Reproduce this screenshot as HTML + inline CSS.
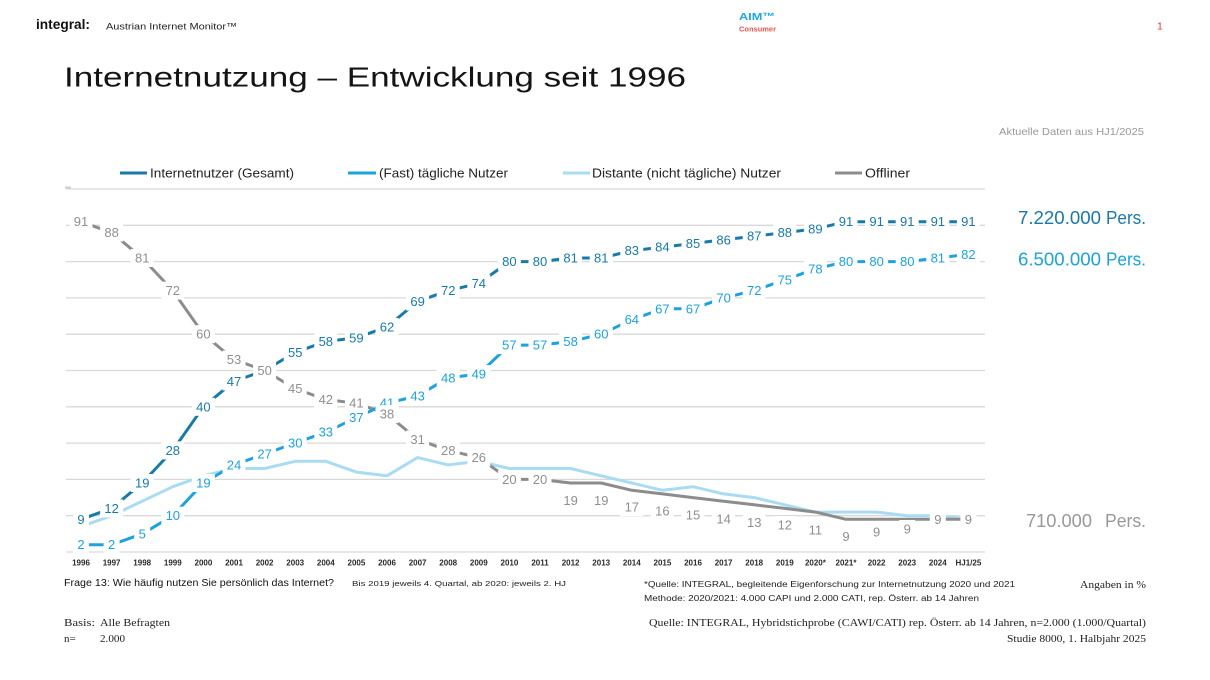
<!DOCTYPE html>
<html><head><meta charset="utf-8"><style>
html,body{margin:0;padding:0;background:#fff;}
svg{display:block;font-family:"Liberation Sans",Arial,sans-serif;}
.lb text{text-anchor:middle;dominant-baseline:central;font-size:13px;}
.lb rect{fill:#fff;}
.ib text{fill:#177aa8;} .db text{fill:#1ba3de;} .ob text{fill:#8f8f8f;}
.xl text{text-anchor:middle;dominant-baseline:central;font-size:8px;font-weight:bold;fill:#2a2a2a;}
.serif{font-family:"Liberation Serif","Times New Roman",serif;}
</style></head><body>
<svg width="1210" height="680" viewBox="0 0 1210 680" xmlns="http://www.w3.org/2000/svg">
<!-- header -->
<text x="36" y="29" font-size="13.5" font-weight="bold" fill="#111" textLength="54" lengthAdjust="spacingAndGlyphs">integral:</text>
<text x="106" y="29.3" font-size="9.5" fill="#222" textLength="131" lengthAdjust="spacingAndGlyphs">Austrian Internet Monitor™</text>
<text x="739" y="20" font-size="10.5" font-weight="bold" fill="#1ea7e0" textLength="36" lengthAdjust="spacingAndGlyphs">AIM™</text>
<text x="739" y="31.5" font-size="7.5" font-weight="bold" fill="#f2544c" textLength="37" lengthAdjust="spacingAndGlyphs">Consumer</text>
<text x="1157" y="29.3" font-size="10.5" fill="#e03a32">1</text>
<text x="64" y="86.5" font-size="28" fill="#141414" textLength="622" lengthAdjust="spacingAndGlyphs">Internetnutzung – Entwicklung seit 1996</text>
<text x="999" y="135" font-size="10.5" fill="#999" textLength="145" lengthAdjust="spacingAndGlyphs">Aktuelle Daten aus HJ1/2025</text>

<!-- legend -->
<line x1="120" y1="173" x2="147" y2="173" stroke="#177aa8" stroke-width="3"/>
<text x="150" y="177.5" font-size="13" fill="#222" textLength="144" lengthAdjust="spacingAndGlyphs">Internetnutzer (Gesamt)</text>
<line x1="348" y1="173" x2="376" y2="173" stroke="#1ba3de" stroke-width="3"/>
<text x="379" y="177.5" font-size="13" fill="#222" textLength="129" lengthAdjust="spacingAndGlyphs">(Fast) tägliche Nutzer</text>
<line x1="563" y1="173" x2="590" y2="173" stroke="#a9dcf3" stroke-width="3"/>
<text x="592" y="177.5" font-size="13" fill="#222" textLength="189" lengthAdjust="spacingAndGlyphs">Distante (nicht tägliche) Nutzer</text>
<line x1="835" y1="173" x2="862" y2="173" stroke="#8c8c8c" stroke-width="3"/>
<text x="865" y="177.5" font-size="13" fill="#222" textLength="45" lengthAdjust="spacingAndGlyphs">Offliner</text>

<!-- gridlines -->
<g stroke="#d9d9d9" stroke-width="1.3">
<line x1="66" y1="189" x2="985" y2="189"/>
<line x1="66" y1="225.3" x2="985" y2="225.3"/>
<line x1="66" y1="261.6" x2="985" y2="261.6"/>
<line x1="66" y1="297.9" x2="985" y2="297.9"/>
<line x1="66" y1="334.2" x2="985" y2="334.2"/>
<line x1="66" y1="370.5" x2="985" y2="370.5"/>
<line x1="66" y1="406.8" x2="985" y2="406.8"/>
<line x1="66" y1="443.1" x2="985" y2="443.1"/>
<line x1="66" y1="479.4" x2="985" y2="479.4"/>
<line x1="66" y1="515.7" x2="985" y2="515.7"/>
<line x1="66" y1="552" x2="985" y2="552"/>
</g>
<rect x="65" y="186.5" width="6" height="2" fill="#d0d0d0"/>

<!-- series lines -->
<g fill="none" stroke-width="3" stroke-linejoin="round">
<polyline stroke="#a9dcf3" points="81,526.6 111.6,515.7 142.2,501.2 172.8,486.7 203.4,475.8 234,468.5 264.6,468.5 295.2,461.3 325.8,461.3 356.4,472.1 387,475.8 417.6,457.6 448.2,464.9 478.8,461.3 509.4,468.5 540,468.5 570.6,468.5 601.2,475.8 631.8,483 662.4,490.3 693,486.7 723.6,493.9 754.2,497.6 784.8,504.8 815.4,512.1 846,512.1 876.6,512.1 907.2,515.7 937.8,515.7 968.4,519.3"/>
<polyline stroke="#8c8c8c" points="81,221.7 111.6,232.6 142.2,258 172.8,290.6 203.4,334.2 234,359.6 264.6,370.5 295.2,388.7 325.8,399.5 356.4,403.2 387,414.1 417.6,439.5 448.2,450.4 478.8,457.6 509.4,479.4 540,479.4 570.6,483 601.2,483 631.8,490.3 662.4,493.9 693,497.6 723.6,501.2 754.2,504.8 784.8,508.4 815.4,512.1 846,519.3 876.6,519.3 907.2,519.3 937.8,519.3 968.4,519.3"/>
<polyline stroke="#177aa8" points="81,519.3 111.6,508.4 142.2,483 172.8,450.4 203.4,406.8 234,381.4 264.6,370.5 295.2,352.4 325.8,341.5 356.4,337.8 387,326.9 417.6,301.5 448.2,290.6 478.8,283.4 509.4,261.6 540,261.6 570.6,258 601.2,258 631.8,250.7 662.4,247.1 693,243.5 723.6,239.8 754.2,236.2 784.8,232.6 815.4,228.9 846,221.7 876.6,221.7 907.2,221.7 937.8,221.7 968.4,221.7"/>
<polyline stroke="#1ba3de" points="81,544.7 111.6,544.7 142.2,533.9 172.8,515.7 203.4,483 234,464.9 264.6,454 295.2,443.1 325.8,432.2 356.4,417.7 387,403.2 417.6,395.9 448.2,377.8 478.8,374.1 509.4,345.1 540,345.1 570.6,341.5 601.2,334.2 631.8,319.7 662.4,308.8 693,308.8 723.6,297.9 754.2,290.6 784.8,279.8 815.4,268.9 846,261.6 876.6,261.6 907.2,261.6 937.8,258 968.4,254.3"/>
</g>

<!-- internet labels -->
<g class="lb ib">
<g transform="translate(81,519.3)"><rect x="-8" y="-9" width="16" height="18"/><text>9</text></g>
<g transform="translate(111.6,508.4)"><rect x="-11.5" y="-9" width="23" height="18"/><text>12</text></g>
<g transform="translate(142.2,483)"><rect x="-11.5" y="-9" width="23" height="18"/><text>19</text></g>
<g transform="translate(172.8,450.4)"><rect x="-11.5" y="-9" width="23" height="18"/><text>28</text></g>
<g transform="translate(203.4,406.8)"><rect x="-11.5" y="-9" width="23" height="18"/><text>40</text></g>
<g transform="translate(234,381.4)"><rect x="-11.5" y="-9" width="23" height="18"/><text>47</text></g>
<g transform="translate(295.2,352.4)"><rect x="-11.5" y="-9" width="23" height="18"/><text>55</text></g>
<g transform="translate(325.8,341.5)"><rect x="-11.5" y="-9" width="23" height="18"/><text>58</text></g>
<g transform="translate(356.4,337.8)"><rect x="-11.5" y="-9" width="23" height="18"/><text>59</text></g>
<g transform="translate(387,326.9)"><rect x="-11.5" y="-9" width="23" height="18"/><text>62</text></g>
<g transform="translate(417.6,301.5)"><rect x="-11.5" y="-9" width="23" height="18"/><text>69</text></g>
<g transform="translate(448.2,290.6)"><rect x="-11.5" y="-9" width="23" height="18"/><text>72</text></g>
<g transform="translate(478.8,283.4)"><rect x="-11.5" y="-9" width="23" height="18"/><text>74</text></g>
<g transform="translate(509.4,261.6)"><rect x="-11.5" y="-9" width="23" height="18"/><text>80</text></g>
<g transform="translate(540,261.6)"><rect x="-11.5" y="-9" width="23" height="18"/><text>80</text></g>
<g transform="translate(570.6,258)"><rect x="-11.5" y="-9" width="23" height="18"/><text>81</text></g>
<g transform="translate(601.2,258)"><rect x="-11.5" y="-9" width="23" height="18"/><text>81</text></g>
<g transform="translate(631.8,250.7)"><rect x="-11.5" y="-9" width="23" height="18"/><text>83</text></g>
<g transform="translate(662.4,247.1)"><rect x="-11.5" y="-9" width="23" height="18"/><text>84</text></g>
<g transform="translate(693,243.5)"><rect x="-11.5" y="-9" width="23" height="18"/><text>85</text></g>
<g transform="translate(723.6,239.8)"><rect x="-11.5" y="-9" width="23" height="18"/><text>86</text></g>
<g transform="translate(754.2,236.2)"><rect x="-11.5" y="-9" width="23" height="18"/><text>87</text></g>
<g transform="translate(784.8,232.6)"><rect x="-11.5" y="-9" width="23" height="18"/><text>88</text></g>
<g transform="translate(815.4,228.9)"><rect x="-11.5" y="-9" width="23" height="18"/><text>89</text></g>
<g transform="translate(846,221.7)"><rect x="-11.5" y="-9" width="23" height="18"/><text>91</text></g>
<g transform="translate(876.6,221.7)"><rect x="-11.5" y="-9" width="23" height="18"/><text>91</text></g>
<g transform="translate(907.2,221.7)"><rect x="-11.5" y="-9" width="23" height="18"/><text>91</text></g>
<g transform="translate(937.8,221.7)"><rect x="-11.5" y="-9" width="23" height="18"/><text>91</text></g>
<g transform="translate(968.4,221.7)"><rect x="-11.5" y="-9" width="23" height="18"/><text>91</text></g>
</g>

<!-- daily labels -->
<g class="lb db">
<g transform="translate(81,544.7)"><rect x="-8" y="-9" width="16" height="18"/><text>2</text></g>
<g transform="translate(111.6,544.7)"><rect x="-8" y="-9" width="16" height="18"/><text>2</text></g>
<g transform="translate(142.2,533.9)"><rect x="-8" y="-9" width="16" height="18"/><text>5</text></g>
<g transform="translate(172.8,515.7)"><rect x="-11.5" y="-9" width="23" height="18"/><text>10</text></g>
<g transform="translate(203.4,483)"><rect x="-11.5" y="-9" width="23" height="18"/><text>19</text></g>
<g transform="translate(234,464.9)"><rect x="-11.5" y="-9" width="23" height="18"/><text>24</text></g>
<g transform="translate(264.6,454)"><rect x="-11.5" y="-9" width="23" height="18"/><text>27</text></g>
<g transform="translate(295.2,443.1)"><rect x="-11.5" y="-9" width="23" height="18"/><text>30</text></g>
<g transform="translate(325.8,432.2)"><rect x="-11.5" y="-9" width="23" height="18"/><text>33</text></g>
<g transform="translate(356.4,417.7)"><rect x="-11.5" y="-9" width="23" height="18"/><text>37</text></g>
<g transform="translate(387,403.2)"><rect x="-11.5" y="-9" width="23" height="18"/><text>41</text></g>
<g transform="translate(417.6,395.9)"><rect x="-11.5" y="-9" width="23" height="18"/><text>43</text></g>
<g transform="translate(448.2,377.8)"><rect x="-11.5" y="-9" width="23" height="18"/><text>48</text></g>
<g transform="translate(478.8,374.1)"><rect x="-11.5" y="-9" width="23" height="18"/><text>49</text></g>
<g transform="translate(509.4,345.1)"><rect x="-11.5" y="-9" width="23" height="18"/><text>57</text></g>
<g transform="translate(540,345.1)"><rect x="-11.5" y="-9" width="23" height="18"/><text>57</text></g>
<g transform="translate(570.6,341.5)"><rect x="-11.5" y="-9" width="23" height="18"/><text>58</text></g>
<g transform="translate(601.2,334.2)"><rect x="-11.5" y="-9" width="23" height="18"/><text>60</text></g>
<g transform="translate(631.8,319.7)"><rect x="-11.5" y="-9" width="23" height="18"/><text>64</text></g>
<g transform="translate(662.4,308.8)"><rect x="-11.5" y="-9" width="23" height="18"/><text>67</text></g>
<g transform="translate(693,308.8)"><rect x="-11.5" y="-9" width="23" height="18"/><text>67</text></g>
<g transform="translate(723.6,297.9)"><rect x="-11.5" y="-9" width="23" height="18"/><text>70</text></g>
<g transform="translate(754.2,290.6)"><rect x="-11.5" y="-9" width="23" height="18"/><text>72</text></g>
<g transform="translate(784.8,279.8)"><rect x="-11.5" y="-9" width="23" height="18"/><text>75</text></g>
<g transform="translate(815.4,268.9)"><rect x="-11.5" y="-9" width="23" height="18"/><text>78</text></g>
<g transform="translate(846,261.6)"><rect x="-11.5" y="-9" width="23" height="18"/><text>80</text></g>
<g transform="translate(876.6,261.6)"><rect x="-11.5" y="-9" width="23" height="18"/><text>80</text></g>
<g transform="translate(907.2,261.6)"><rect x="-11.5" y="-9" width="23" height="18"/><text>80</text></g>
<g transform="translate(937.8,258)"><rect x="-11.5" y="-9" width="23" height="18"/><text>81</text></g>
<g transform="translate(968.4,254.3)"><rect x="-11.5" y="-9" width="23" height="18"/><text>82</text></g>
</g>

<!-- offline labels -->
<g class="lb ob">
<g transform="translate(81,221.7)"><rect x="-11.5" y="-9" width="23" height="18"/><text>91</text></g>
<g transform="translate(111.6,232.6)"><rect x="-11.5" y="-9" width="23" height="18"/><text>88</text></g>
<g transform="translate(142.2,258)"><rect x="-11.5" y="-9" width="23" height="18"/><text>81</text></g>
<g transform="translate(172.8,290.6)"><rect x="-11.5" y="-9" width="23" height="18"/><text>72</text></g>
<g transform="translate(203.4,334.2)"><rect x="-11.5" y="-9" width="23" height="18"/><text>60</text></g>
<g transform="translate(234,359.6)"><rect x="-11.5" y="-9" width="23" height="18"/><text>53</text></g>
<g transform="translate(264.6,370.5)"><rect x="-11.5" y="-9" width="23" height="18"/><text>50</text></g>
<g transform="translate(295.2,388.7)"><rect x="-11.5" y="-9" width="23" height="18"/><text>45</text></g>
<g transform="translate(325.8,399.5)"><rect x="-11.5" y="-9" width="23" height="18"/><text>42</text></g>
<g transform="translate(356.4,403.2)"><rect x="-11.5" y="-9" width="23" height="18"/><text>41</text></g>
<g transform="translate(387,414.1)"><rect x="-11.5" y="-9" width="23" height="18"/><text>38</text></g>
<g transform="translate(417.6,439.5)"><rect x="-11.5" y="-9" width="23" height="18"/><text>31</text></g>
<g transform="translate(448.2,450.4)"><rect x="-11.5" y="-9" width="23" height="18"/><text>28</text></g>
<g transform="translate(478.8,457.6)"><rect x="-11.5" y="-9" width="23" height="18"/><text>26</text></g>
<g transform="translate(509.4,479.4)"><rect x="-11.5" y="-9" width="23" height="18"/><text>20</text></g>
<g transform="translate(540,479.4)"><rect x="-11.5" y="-9" width="23" height="18"/><text>20</text></g>
<g transform="translate(570.6,500.5)"><rect x="-11.5" y="-9" width="23" height="18"/><text>19</text></g>
<g transform="translate(601.2,500.5)"><rect x="-11.5" y="-9" width="23" height="18"/><text>19</text></g>
<g transform="translate(631.8,507)"><rect x="-11.5" y="-9" width="23" height="18"/><text>17</text></g>
<g transform="translate(662.4,511)"><rect x="-11.5" y="-9" width="23" height="18"/><text>16</text></g>
<g transform="translate(693,515)"><rect x="-11.5" y="-9" width="23" height="18"/><text>15</text></g>
<g transform="translate(723.6,519)"><rect x="-11.5" y="-9" width="23" height="18"/><text>14</text></g>
<g transform="translate(754.2,522.5)"><rect x="-11.5" y="-9" width="23" height="18"/><text>13</text></g>
<g transform="translate(784.8,525)"><rect x="-11.5" y="-9" width="23" height="18"/><text>12</text></g>
<g transform="translate(815.4,530)"><rect x="-11.5" y="-9" width="23" height="18"/><text>11</text></g>
<g transform="translate(846,536.5)"><rect x="-8" y="-9" width="16" height="18"/><text>9</text></g>
<g transform="translate(876.6,532)"><rect x="-8" y="-9" width="16" height="18"/><text>9</text></g>
<g transform="translate(907.2,529)"><rect x="-8" y="-9" width="16" height="18"/><text>9</text></g>
<g transform="translate(937.8,519.3)"><rect x="-8" y="-9" width="16" height="18"/><text>9</text></g>
<g transform="translate(968.4,519.3)"><rect x="-8" y="-9" width="16" height="18"/><text>9</text></g>
</g>

<!-- x axis labels -->
<g class="xl">
<text x="81" y="563">1996</text><text x="111.6" y="563">1997</text><text x="142.2" y="563">1998</text><text x="172.8" y="563">1999</text><text x="203.4" y="563">2000</text><text x="234" y="563">2001</text><text x="264.6" y="563">2002</text><text x="295.2" y="563">2003</text><text x="325.8" y="563">2004</text><text x="356.4" y="563">2005</text><text x="387" y="563">2006</text><text x="417.6" y="563">2007</text><text x="448.2" y="563">2008</text><text x="478.8" y="563">2009</text><text x="509.4" y="563">2010</text><text x="540" y="563">2011</text><text x="570.6" y="563">2012</text><text x="601.2" y="563">2013</text><text x="631.8" y="563">2014</text><text x="662.4" y="563">2015</text><text x="693" y="563">2016</text><text x="723.6" y="563">2017</text><text x="754.2" y="563">2018</text><text x="784.8" y="563">2019</text><text x="815.4" y="563">2020*</text><text x="846" y="563">2021*</text><text x="876.6" y="563">2022</text><text x="907.2" y="563">2023</text><text x="937.8" y="563">2024</text><text x="968.4" y="563">HJ1/25</text>
</g>

<!-- right side totals -->
<text x="1018" y="224" font-size="18" fill="#177aa8" textLength="83" lengthAdjust="spacingAndGlyphs">7.220.000</text>
<text x="1106" y="224" font-size="18" fill="#177aa8" textLength="40" lengthAdjust="spacingAndGlyphs">Pers.</text>
<text x="1018" y="265.5" font-size="18" fill="#1ba3de" textLength="83" lengthAdjust="spacingAndGlyphs">6.500.000</text>
<text x="1106" y="265.5" font-size="18" fill="#1ba3de" textLength="40" lengthAdjust="spacingAndGlyphs">Pers.</text>
<text x="1026" y="527" font-size="18" fill="#999" textLength="66" lengthAdjust="spacingAndGlyphs">710.000</text>
<text x="1105" y="527" font-size="18" fill="#999" textLength="41" lengthAdjust="spacingAndGlyphs">Pers.</text>

<!-- footer -->
<text x="64" y="586" font-size="10" fill="#111" textLength="270" lengthAdjust="spacingAndGlyphs">Frage 13: Wie häufig nutzen Sie persönlich das Internet?</text>
<text x="352" y="586" font-size="7.5" fill="#222" textLength="214" lengthAdjust="spacingAndGlyphs">Bis 2019  jeweils 4. Quartal, ab 2020: jeweils 2. HJ</text>
<text x="644" y="587" font-size="8" fill="#222" textLength="371" lengthAdjust="spacingAndGlyphs">*Quelle: INTEGRAL, begleitende Eigenforschung zur Internetnutzung 2020 und 2021</text>
<text x="644" y="601" font-size="8" fill="#222" textLength="335" lengthAdjust="spacingAndGlyphs">Methode: 2020/2021: 4.000 CAPI und 2.000 CATI, rep. Österr. ab 14 Jahren</text>
<text class="serif" x="1080" y="588" font-size="10.5" fill="#222" textLength="66" lengthAdjust="spacingAndGlyphs">Angaben in %</text>
<text class="serif" x="1146" y="626" font-size="11" fill="#222" text-anchor="end" textLength="497" lengthAdjust="spacingAndGlyphs">Quelle: INTEGRAL, Hybridstichprobe (CAWI/CATI) rep. Österr. ab 14 Jahren, n=2.000 (1.000/Quartal)</text>
<text class="serif" x="1146" y="642" font-size="11" fill="#222" text-anchor="end" textLength="139" lengthAdjust="spacingAndGlyphs">Studie 8000, 1. Halbjahr 2025</text>
<text class="serif" x="64" y="626" font-size="11" fill="#222" textLength="31" lengthAdjust="spacingAndGlyphs">Basis:</text>
<text class="serif" x="100" y="626" font-size="11" fill="#222" textLength="70" lengthAdjust="spacingAndGlyphs">Alle Befragten</text>
<text class="serif" x="64" y="642" font-size="11" fill="#222">n=</text>
<text class="serif" x="100" y="642" font-size="11" fill="#222" textLength="25" lengthAdjust="spacingAndGlyphs">2.000</text>
</svg>
</body></html>
